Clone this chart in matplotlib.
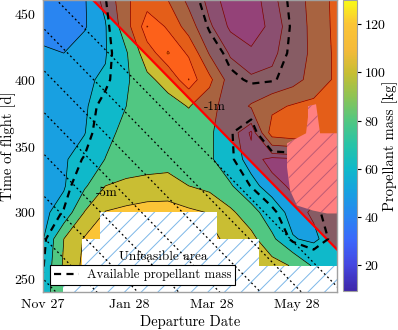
import numpy as np
import pandas as pd
import matplotlib
matplotlib.use('Agg')
import matplotlib.pyplot as plt
from matplotlib.colors import LinearSegmentedColormap, Normalize
from matplotlib.cm import ScalarMappable
from matplotlib.lines import Line2D

plt.rcParams['font.family'] = 'cmr10'
plt.rcParams['mathtext.fontset'] = 'cm'
plt.rcParams['axes.formatter.use_mathtext'] = True
plt.rcParams['hatch.linewidth'] = 0.7

# --- data -------------------------------------------------------------
start_date = pd.Timestamp('2027-11-27')
tick_dates = ['2027-11-27', '2028-01-28', '2028-03-28', '2028-05-28']
tick_labels = ['Nov 27', 'Jan 28', 'Mar 28', 'May 28']

# departure (days after Nov 27) and time of flight grid [d]
dep_days = np.array([0, 15, 30, 45, 60, 75, 90, 105, 120, 135, 150, 165, 180, 195, 212])
tof_days = np.array([240, 260, 280, 300, 320, 340, 360, 380, 400, 420, 440, 460])

# propellant mass [kg], one row per time of flight (240 -> 460)
mass = np.array([
    [69, 100, 125, 127, 127, 127, 127, 127, 126, 125, 122, 112, 100, 85, 75],
    [63.5, 103, 125, 128, 128, 128, 128, 128, 126, 124, 121, 108, 98, 77, 68],
    [59, 100, 122, 128, 128, 128, 128, 128, 122, 118, 106, 84, 61, 57, 70],
    [57, 66, 101, 121, 125, 128, 126, 124, 119, 104, 88, 68, 55, 62, 72],
    [56, 58.5, 77, 100, 105, 108, 112, 100, 94, 82, 64, 54, 48, 55, 60],
    [55, 58.5, 66, 80.5, 87, 89, 88, 86, 83, 67, 55, 46, 48, 60, 70],
    [55, 57, 59.5, 74, 86, 90, 90, 88, 83, 67, 48, 110, 115, 115, 110],
    [54, 56, 58, 70, 80, 88, 92, 101, 88, 68, 82, 95, 102, 105, 108],
    [53, 55, 58.5, 61.5, 77, 95, 108, 130.5, 105, 70, 62, 63, 72, 88, 104],
    [52, 50, 55, 59, 78, 112, 131, 118, 78, 58, 52, 57, 68, 85, 105],
    [45, 46, 49, 59, 92, 130.5, 118, 90, 62, 48, 44, 53, 67, 86, 106],
    [42, 44, 49, 64, 97, 112, 100, 75, 55, 45, 44, 57, 68, 88, 106],
])

mass_levels = [0, 40, 50, 60, 80, 100, 120, 130, 200]
available_mass = 65

# arrival deadline (red line) and the month offsets before it
limit_dep = [36, 211.6]
limit_tof = [460, 272.3]
month_shift = [28, 59.5, 91, 122.5, 154, 185.5, 217, 248.5]

# unfeasible areas
unf_dep = [14.5, 28.3, 41.3, 125.4, 155.8, 215]
unf_top = [260, 280, 300, 280, 260, 260]
unf2_dep = [190.9, 196.7, 199.6, 215, 215, 204.6, 194.5, 183.0, 178.0, 175.8, 175.8, 189.5, 190.9]
unf2_tof = [380.0, 381.5, 359.6, 359.6, 299.2, 299.2, 301.4, 305.2, 316.5, 333.9, 352.0, 359.6, 371.7]

# --- colormap (parula-like) -------------------------------------------
parula_pts = [
    (0.00, (0.242, 0.150, 0.660)),
    (0.09, (0.270, 0.280, 0.880)),
    (0.17, (0.235, 0.400, 0.985)),
    (0.25, (0.165, 0.515, 0.950)),
    (0.34, (0.090, 0.630, 0.880)),
    (0.42, (0.060, 0.725, 0.790)),
    (0.50, (0.150, 0.765, 0.660)),
    (0.59, (0.330, 0.780, 0.500)),
    (0.67, (0.560, 0.765, 0.330)),
    (0.75, (0.780, 0.745, 0.200)),
    (0.83, (0.960, 0.730, 0.230)),
    (0.92, (0.985, 0.770, 0.210)),
    (1.00, (0.977, 0.984, 0.080)),
]
parula = LinearSegmentedColormap.from_list('parula', parula_pts)
norm = Normalize(vmin=9.3, vmax=130)
band_colors = [parula(norm(max(v, 25))) for v in mass_levels[:-1]]

hatch_blue = '#7db7e8'
hatch_on_red = '#be5b74'

# --- figure -----------------------------------------------------------
fig = plt.figure(figsize=(3.98, 3.30), dpi=100)
ax = fig.add_axes([0.108, 0.115, 0.738, 0.885])

X, Y = np.meshgrid(dep_days, tof_days)
ax.contourf(X, Y, mass, levels=mass_levels, colors=band_colors, zorder=1)
ax.contour(X, Y, mass, levels=mass_levels[1:-1], colors='k', linewidths=0.5, zorder=1.2)

# region after the arrival deadline
slope = (limit_tof[1] - limit_tof[0]) / (limit_dep[1] - limit_dep[0])
xx = np.array([-20, 240])
red_tof = limit_tof[0] + slope * (xx - limit_dep[0])
ax.fill_between(xx, red_tof, 500, color='red', alpha=0.5, linewidth=0, zorder=1.5)
ax.plot(xx, red_tof, color='red', lw=1.6, zorder=1.6)

cs = ax.contour(X, Y, mass, levels=[available_mass], colors='k', linewidths=1.6, zorder=1.7)
cs.set_linestyle((0, (3.2, 2.4)))

# unfeasible areas
ax.fill_between(unf_dep, 200, unf_top, step='post', facecolor='white',
                edgecolor=hatch_blue, hatch='//', linewidth=0, zorder=2)
ax.fill(unf2_dep, unf2_tof, facecolor='#ff8080', edgecolor=hatch_on_red,
        hatch='//', linewidth=0, zorder=2)

# months before the deadline
for s in month_shift:
    ax.plot(xx, red_tof - s, color='k', lw=0.9, ls=(0, (1.5, 2.2)), zorder=2.5)

ax.text(123.9, 379.2, '-1m', fontsize=9.5, ha='center', va='center', zorder=3)
ax.text(45.7, 315, '-5m', fontsize=9.5, ha='center', va='center', zorder=3)
ax.text(86.5, 266.7, 'Unfeasible area', fontsize=9.6, ha='center', va='center', zorder=3)

ax.set_xlim(0, 211.6)
ax.set_ylim(240, 460)
tick_pos = [(pd.Timestamp(d) - start_date).days for d in tick_dates]
ax.set_xticks(tick_pos)
ax.set_xticklabels(tick_labels)
ax.set_yticks([250, 300, 350, 400, 450])
ax.tick_params(length=0, labelsize=10, pad=5)
ax.set_xlabel('Departure Date', fontsize=10.5, labelpad=3)
ax.set_ylabel('Time of flight [d]', fontsize=10.5)
ax.yaxis.set_label_coords(-0.093, 0.5)
for sp in ax.spines.values():
    sp.set_color('#a0a0a0')
    sp.set_linewidth(1.0)

handle = Line2D([], [], color='k', lw=1.6, ls=(0, (3.2, 2.4)))
leg = ax.legend([handle], ['Available propellant mass'], loc='lower left',
                bbox_to_anchor=(0.024, 0.024), fontsize=9.2, frameon=True,
                fancybox=False, framealpha=1, edgecolor='k', borderpad=0.3,
                handlelength=2.0, handletextpad=0.6, borderaxespad=0)
leg.get_frame().set_linewidth(0.8)
leg.set_zorder(4)

cax = fig.add_axes([0.8626, 0.118, 0.0337, 0.882])
cb = fig.colorbar(ScalarMappable(norm=norm, cmap=parula), cax=cax)
cb.set_ticks([20, 40, 60, 80, 100, 120])
cb.ax.tick_params(labelsize=10, length=3, width=0.8, direction='out', pad=2)
cb.outline.set_edgecolor('#a0a0a0')
cb.set_label('Propellant mass [kg]', fontsize=10.5)
cb.ax.yaxis.set_label_coords(2.88, 0.5)

fig.savefig('out.png', dpi=100)
